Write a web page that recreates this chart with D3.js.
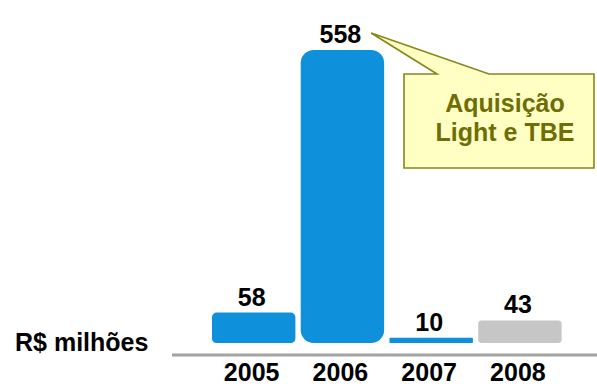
<!DOCTYPE html>
<html>
<head>
<meta charset="utf-8">
<script src="https://cdn.jsdelivr.net/npm/d3@7"></script>
<style>
  html, body { margin: 0; padding: 0; background: #fff; }
  svg { display: block; font-family: "Liberation Sans", Arial, Helvetica, sans-serif; font-weight: bold; }
</style>
</head>
<body>
<svg id="chart" width="597" height="386"></svg>
<script>
// Investment per year, R$ millions
const years = ["2005", "2006", "2007", "2008"];
const values = [58, 558, 10, 43];
const barColors = ["#0e90da", "#0e90da", "#0e90da", "#c6c6c6"];
const unitLabel = "R$ milhões";
const calloutLines = ["Aquisição", "Light e TBE"];
const calloutYear = "2006";

const svg = d3.select("#chart");

const x = d3.scaleBand()
  .domain(years)
  .range([209.3, 564.3])
  .paddingInner(0.06)
  .paddingOuter(0.03);

const y = d3.scaleLinear()
  .domain([0, d3.max(values)])
  .range([343, 50]);

const data = years.map((yr, i) => ({ year: yr, value: values[i], color: barColors[i] }));

// bars with rounded corners, softer on short bars
svg.append("g")
  .selectAll("rect")
  .data(data)
  .join("rect")
  .attr("x", d => x(d.year))
  .attr("y", d => y(d.value))
  .attr("width", x.bandwidth())
  .attr("height", d => y(0) - y(d.value))
  .attr("rx", d => Math.min(13, (y(0) - y(d.value)) * 0.15))
  .attr("fill", d => d.color);

// baseline
svg.append("line")
  .attr("x1", 172).attr("x2", 597)
  .attr("y1", 355).attr("y2", 355)
  .attr("stroke", "#a3a3a3")
  .attr("stroke-width", 3);

// value labels
svg.append("g")
  .selectAll("text")
  .data(data)
  .join("text")
  .attr("x", d => x(d.year) + x.bandwidth() / 2 - 2)
  .attr("y", d => y(d.value) - 7)
  .attr("text-anchor", "middle")
  .attr("font-size", 25)
  .attr("fill", "#000")
  .text(d => d.value);

// year labels
svg.append("g")
  .selectAll("text")
  .data(years)
  .join("text")
  .attr("x", d => x(d) + x.bandwidth() / 2 - 2)
  .attr("y", 381)
  .attr("text-anchor", "middle")
  .attr("font-size", 25)
  .attr("fill", "#000")
  .text(d => d);

// unit label
svg.append("text")
  .attr("x", 15)
  .attr("y", 351)
  .attr("font-size", 25)
  .attr("fill", "#000")
  .text(unitLabel);

// callout pointing at the tallest bar's label
const ci = years.indexOf(calloutYear);
const tipX = x(calloutYear) + x.bandwidth() - 13;
const tipY = y(values[ci]) - 17;
const box = { x0: 404, y0: 74, x1: 594, y1: 168 };
const callout = svg.append("g");
callout.append("path")
  .attr("d", [
    "M", box.x0, box.y0,
    "L", 437, box.y0,
    "L", tipX, tipY,
    "L", 489, box.y0,
    "L", box.x1, box.y0,
    "L", box.x1, box.y1,
    "L", box.x0, box.y1, "Z"
  ].join(" "))
  .attr("fill", "#ffffc4")
  .attr("stroke", "#86861c")
  .attr("stroke-width", 1.6)
  .attr("stroke-linejoin", "miter");

callout.selectAll("text")
  .data(calloutLines)
  .join("text")
  .attr("x", 505)
  .attr("y", (d, i) => 112 + i * 29)
  .attr("text-anchor", "middle")
  .attr("font-size", 25)
  .attr("fill", "#6e6e06")
  .text(d => d);
</script>
</body>
</html>
